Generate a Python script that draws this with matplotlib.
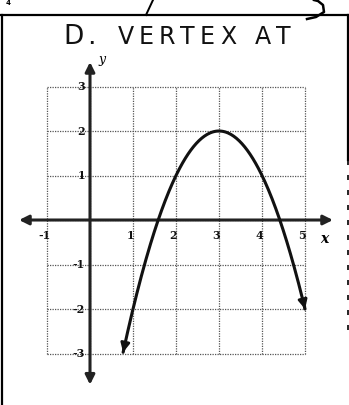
import numpy as np
import matplotlib.pyplot as plt
from matplotlib.patches import FancyArrowPatch

# parabola in vertex form y = a (x - h)^2 + k
a = -1.0
h = 3.0
k = 2.0
x_start = 0.77
x_end = 5.0

x_ticks = [-1, 1, 2, 3, 4, 5]
y_ticks = [3, 2, 1, -1, -2, -3]
grid_x = [-1, 0, 1, 2, 3, 4, 5]
grid_y = [-3, -2, -1, 0, 1, 2, 3]
heading_words = ["D.", "VERTEX", "AT"]

W, H = 349, 405
fig = plt.figure(figsize=(W / 100, H / 100), dpi=100)
ax = fig.add_axes([0, 0, 1, 1])
ax.set_xlim(-2.093, 6.023)
ax.set_ylim(-4.157, 4.944)
ax.axis("off")

# dotted grid
for gx in grid_x:
    ax.plot([gx, gx], [-3, 3], color="#555555", lw=0.9, ls=(0, (1, 1)), zorder=1)
for gy in grid_y:
    ax.plot([-1, 5], [gy, gy], color="#555555", lw=0.9, ls=(0, (1, 1)), zorder=1)

# axes with arrows at both ends
ax.annotate("", xy=(-1.65, 0), xytext=(5.65, 0),
            arrowprops=dict(arrowstyle="<|-|>", color="#222222", lw=2.2,
                            mutation_scale=14, shrinkA=0, shrinkB=0), zorder=3)
ax.annotate("", xy=(0, 3.55), xytext=(0, -3.7),
            arrowprops=dict(arrowstyle="<|-|>", color="#222222", lw=2.2,
                            mutation_scale=14, shrinkA=0, shrinkB=0), zorder=3)

# tick numbers
num_font = dict(family="DejaVu Serif", fontsize=8, color="#111111", weight="bold")
for t in x_ticks:
    ax.text(t - 0.06, -0.22, str(t), ha="center", va="top", **num_font)
for t in y_ticks:
    ax.text(-0.12, t, str(t), ha="right", va="center", **num_font)
ax.text(5.45, -0.28, "x", ha="center", va="top", style="italic",
        family="DejaVu Serif", fontsize=10, weight="bold")
ax.text(0.28, 3.6, "y", ha="center", va="center", style="italic",
        family="DejaVu Serif", fontsize=9)

# the parabola
xs = np.linspace(x_start, x_end, 200)
ys = a * (xs - h) ** 2 + k
ax.plot(xs, ys, color="#111111", lw=2.2, zorder=4, solid_capstyle="round")
for i0, i1 in [(1, 0), (-2, -1)]:
    arr = FancyArrowPatch((xs[i0], ys[i0]), (xs[i1], ys[i1]), arrowstyle="-|>",
                          mutation_scale=13, color="#111111", lw=2, zorder=5)
    ax.add_patch(arr)

# frame of the answer box (pixel coordinates, top-left origin)
def px(x, y):
    return x / W, 1 - y / H

def stroke(xs_px, ys_px, **kw):
    pts = [px(x, y) for x, y in zip(xs_px, ys_px)]
    ax.plot([p[0] for p in pts], [p[1] for p in pts], color="black",
            transform=ax.transAxes, clip_on=False, **kw)

stroke([2, 2], [15, 405], lw=1.6)
stroke([0, 349], [15, 15], lw=1.6)
stroke([347.5, 347.5], [15, 160], lw=1.6)
stroke([347.5, 347.5], [160, 330], lw=1.2, ls=(0, (3, 6)))

# pen strokes crossing the top edge
stroke([146, 153], [15, 0], lw=1.4)
stroke([307, 316, 324, 323, 318, 314], [19, 17, 12, 5, 1, 0], lw=1.8)
ax.text(*px(8, 0), "4", transform=ax.transAxes, ha="center", va="top",
        fontsize=5, weight="bold")

# handwritten heading, letter by letter
letter_pos = {"D.": (63, 24), "VERTEX": (118, 20.5), "AT": (255, 21)}
for word in heading_words:
    x0, pitch = letter_pos[word]
    for i, ch in enumerate(word):
        ax.text(*px(x0 + i * pitch, 37), ch, transform=ax.transAxes,
                ha="left", va="center", fontsize=19 if word == "D." else 17,
                family="DejaVu Sans", color="#111111")

fig.savefig("out.png", dpi=100)
